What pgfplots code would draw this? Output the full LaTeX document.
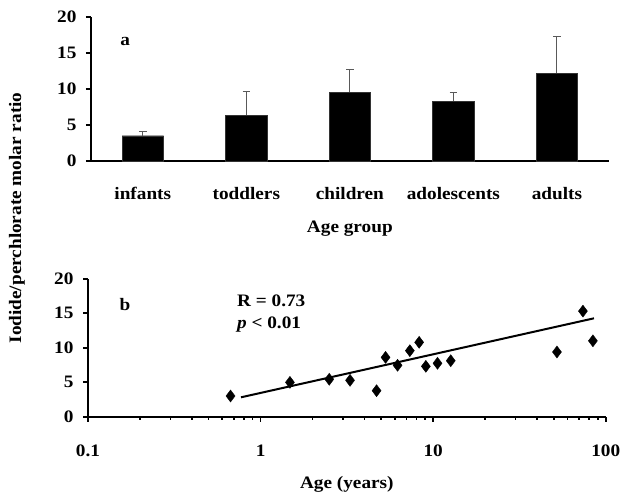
\documentclass[border=0pt]{standalone}
\usepackage{fontspec}
\setmainfont{Liberation Serif}[FakeStretch=1.1]
\usepackage{pgfplots}
\pgfplotsset{compat=1.18}
\newcommand{\ff}{\fontsize{17.5}{20}\selectfont\bfseries}
\begin{document}
\begin{tikzpicture}
\useasboundingbox (0pt,0pt) rectangle (621pt,-493pt);
\pgfplotsset{
  common/.style={
    scale only axis,
    width=517.7pt,
    axis x line*=bottom, axis y line*=left,
    axis line style={line width=1.6pt,-},
    every tick/.style={line width=1.6pt,black},
    tick align=outside,
    major tick length=5pt,
    ymin=0, ymax=20, ytick={0,5,...,20},
    /pgf/number format/assume math mode=true,
    tick label style={font=\ff},
    yticklabel style={xshift=-6pt},
    label style={font=\ff},
    clip=false,
  }
}
\begin{axis}[common,
  at={(91pt,-160.7pt)}, anchor=south west,
  height=144pt,
  xmin=0.5, xmax=5.5,
  xtick={1,2,3,4,5},
  xticklabels={infants,toddlers,children,adolescents,adults},
  xtick style={draw=none},
  xticklabel style={yshift=-18pt},
  extra x ticks={0.5,1.5,2.5,3.5,4.5,5.5},
  extra x tick labels={},
  extra x tick style={tick style={line width=1.6pt,black}, major tick length=5pt},
  xlabel={Age group},
  xlabel style={yshift=-4pt},
]
\addplot[ybar, bar width=41.5pt, bar shift=0pt, fill=black, draw=black!80,
  error bars/.cd, y dir=plus, y explicit,
  error bar style={line width=1pt, black!65},
  error mark options={rotate=90, mark size=3.8pt, line width=1pt, black!65}]
  coordinates {
  (1,3.47) +- (0,0.65)
  (2,6.30) +- (0,3.38)
  (3,9.54) +- (0,3.06)
  (4,8.29) +- (0,1.21)
  (5,12.14) +- (0,5.16)
  };
\node[font=\ff, anchor=center] at (axis cs:0.83,16.5) {a};
\end{axis}

\begin{axis}[common,
  at={(88pt,-416.7pt)}, anchor=south west,
  height=138pt,
  xmode=log, xmin=0.1, xmax=100,
  xtick={0.1,1,10,100},
  xticklabels={0.1,1,10,100},
  minor xtick={},
  xticklabel style={yshift=-20pt},
  xlabel={Age (years)},
  xlabel style={yshift=-12pt},
]
\addplot[only marks, mark=diamond*, mark size=6pt, mark options={fill=black, draw=black}]
  coordinates {
  (0.67,3.0) (1.48,4.98) (2.50,5.42) (3.30,5.27) (4.70,3.77)
  (5.30,8.6) (6.22,7.45) (7.33,9.57) (8.30,10.78) (9.07,7.30)
  (10.6,7.74) (12.65,8.12) (52.2,9.38) (73.8,15.3) (84.3,11.0)
  };
\addplot[black, line width=2pt] coordinates {(0.77,2.81) (85.5,14.26)};
\node[font=\ff, anchor=center] at (axis cs:0.164,16.3) {b};
\node[font=\ff, anchor=west, inner sep=0pt] at (axis cs:0.73,16.8) {R = 0.73};
\node[font=\ff, anchor=west, inner sep=0pt] at (axis cs:0.73,13.4) {\textit{p} < 0.01};
\end{axis}
\node[font=\ff, rotate=90] at (17pt,-218pt) {Iodide/perchlorate molar ratio};
\end{tikzpicture}
\end{document}
